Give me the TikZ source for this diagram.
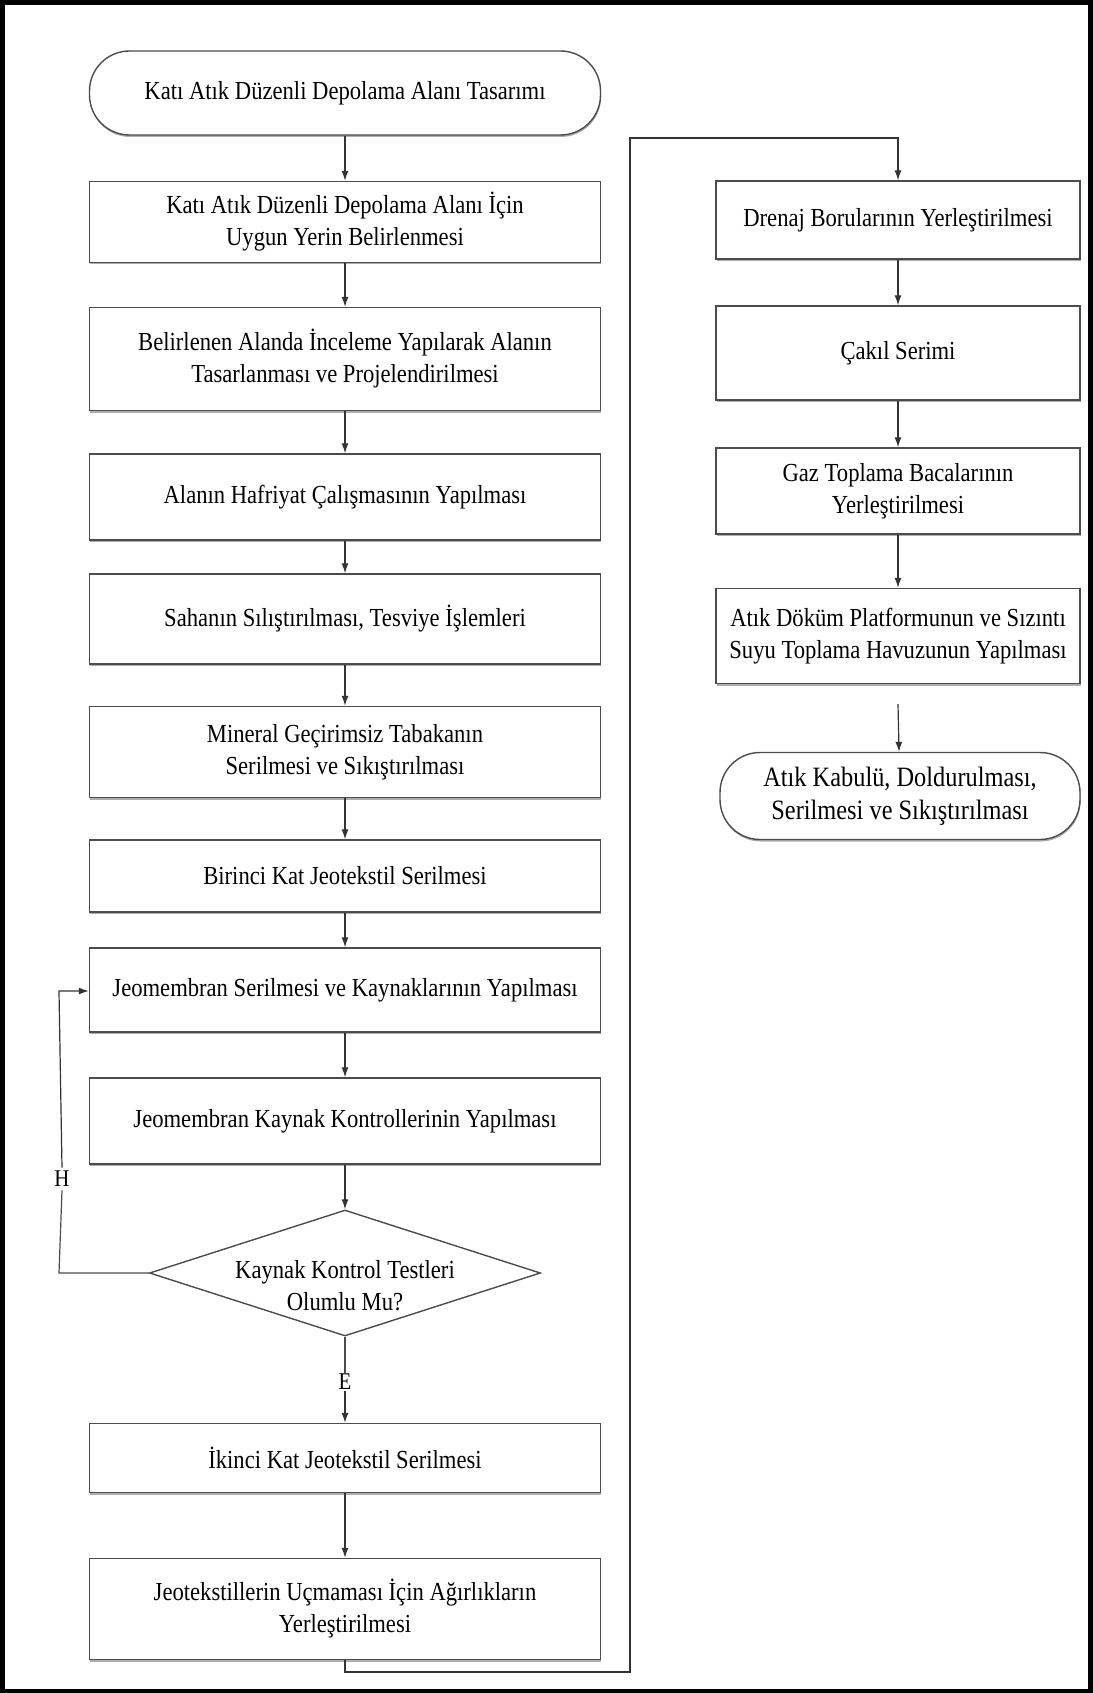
\documentclass[tikz,border=0pt]{standalone}
\usepackage{fontspec}
\setmainfont{Liberation Serif}[FakeStretch=0.87]
\usetikzlibrary{arrows.meta,shapes.geometric,shadows}
\begin{document}
\begin{tikzpicture}[x=1pt,y=-1pt,
  font=\fontsize{26}{32}\selectfont,
  boxshade/.style={drop shadow={shadow xshift=0.6pt,shadow yshift=-2pt,fill=black!45,opacity=0.7}},
  procbox/.style={draw=black!70,line width=1.4pt,fill=white,boxshade,align=center,inner sep=2pt},
  leftbox/.style={procbox,minimum width=511pt},
  rightbox/.style={procbox,minimum width=364pt},
  termbox/.style={draw=black!70,line width=1.4pt,fill=white,boxshade,align=center,rounded corners=40pt},
  decision/.style={draw=black!70,line width=1.4pt,fill=white,diamond,aspect=3.1,inner sep=0pt,minimum width=391pt,minimum height=126pt},
  flow/.style={draw=black!80,line width=1.2pt,-{Latex[length=10pt,width=7pt]}},
  plainflow/.style={draw=black!70,line width=1.2pt},
  tag/.style={font=\fontsize{24}{28}\selectfont}]
% page frame
\useasboundingbox (0,0) rectangle (1092,1693);
\draw[line width=5pt] (2.5,2.5) rectangle (1090,1691);

% left column
\node[termbox,minimum width=511pt,minimum height=84pt] (start) at (345,93) {Katı Atık Düzenli Depolama Alanı Tasarımı};
\node[leftbox,minimum height=81pt] (b1) at (345,222) {Katı Atık Düzenli Depolama Alanı İçin\\Uygun Yerin Belirlenmesi};
\node[leftbox,minimum height=103pt] (b2) at (345,359) {Belirlenen Alanda İnceleme Yapılarak Alanın\\Tasarlanması ve Projelendirilmesi};
\node[leftbox,minimum height=86pt] (b3) at (345,497) {Alanın Hafriyat Çalışmasının Yapılması};
\node[leftbox,minimum height=90pt] (b4) at (345,619) {Sahanın Sılıştırılması, Tesviye İşlemleri};
\node[leftbox,minimum height=91pt] (b5) at (345,752) {Mineral Geçirimsiz Tabakanın\\Serilmesi ve Sıkıştırılması};
\node[leftbox,minimum height=72pt] (b6) at (345,876) {Birinci Kat Jeotekstil Serilmesi};
\node[leftbox,minimum height=84pt] (b7) at (345,990) {Jeomembran Serilmesi ve Kaynaklarının Yapılması};
\node[leftbox,minimum height=86pt] (b8) at (345,1121) {Jeomembran Kaynak Kontrollerinin Yapılması};
\node[decision] (dec) at (345,1273) {};
\node[align=center] (dectext) at (345,1286) {Kaynak Kontrol Testleri\\Olumlu Mu?};
\node[leftbox,minimum height=69pt] (b9) at (345,1458) {İkinci Kat Jeotekstil Serilmesi};
\node[leftbox,minimum height=101pt] (b10) at (345,1609) {Jeotekstillerin Uçmaması İçin Ağırlıkların\\Yerleştirilmesi};

% right column
\node[rightbox,minimum height=78pt] (r1) at (898,220) {Drenaj Borularının Yerleştirilmesi};
\node[rightbox,minimum height=94pt] (r2) at (898,353) {Çakıl Serimi};
\node[rightbox,minimum height=86pt] (r3) at (898,491) {Gaz Toplama Bacalarının\\Yerleştirilmesi};
\node[rightbox,minimum height=95pt] (r4) at (898,636) {Atık Döküm Platformunun ve Sızıntı\\Suyu Toplama Havuzunun Yapılması};
\node[termbox,minimum width=360pt,minimum height=87pt,font=\fontsize{28}{33}\selectfont] (end) at (900,796) {Atık Kabulü, Doldurulması,\\Serilmesi ve Sıkıştırılması};

% labels on the loop
\node[tag] (hlab) at (62,1179) {H};
\node[tag,fill=white,inner sep=1pt] (elab) at (345,1382) {E};

% connectors
\draw[flow] (start) -- (b1);
\draw[flow] (b1) -- (b2);
\draw[flow] (b2) -- (b3);
\draw[flow] (b3) -- (b4);
\draw[flow] (b4) -- (b5);
\draw[flow] (b5) -- (b6);
\draw[flow] (b6) -- (b7);
\draw[flow] (b7) -- (b8);
\draw[flow] (b8) -- (dec);
\draw[plainflow] (dec.south) -- (elab.north);
\draw[flow] (elab.south) -- (b9);
\draw[flow] (b9) -- (b10);
\coordinate (hcorner) at (59,1273);
\coordinate (hturn) at (59,991);
\draw[plainflow] (dec.west) -- (hcorner) -- (hlab.south);
\draw[flow] (hlab.north) -- (hturn) -- (b7.west |- hturn);
\coordinate (low) at (345,1672);
\coordinate (lowr) at (630,1672);
\coordinate (topl) at (630,138);
\coordinate (topr) at (898,138);
\draw[flow] (b10.south) -- (low) -- (lowr) -- (topl) -- (topr) -- (r1.north);
\draw[flow] (r1) -- (r2);
\draw[flow] (r2) -- (r3);
\draw[flow] (r3) -- (r4);
\draw[flow] ([yshift=-20pt]r4.south) -- (end);
\end{tikzpicture}
\end{document}
